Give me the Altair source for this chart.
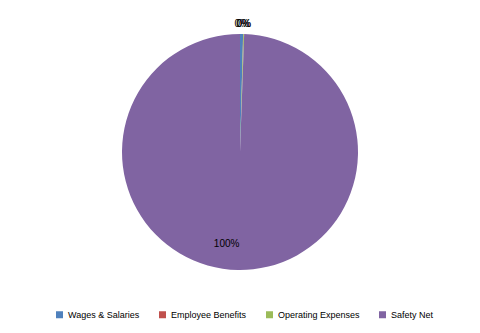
import altair as alt
import pandas as pd

categories = ["Wages & Salaries", "Employee Benefits", "Operating Expenses", "Safety Net"]
values = [0.42, 0.02, 0.12, 99.44]
labels = ["0%", "0%", "0%", "100%"]
colors = ["#4F81BD", "#C0504D", "#9BBB59", "#8064A2"]

df = pd.DataFrame({"category": categories, "value": values, "label": labels,
                   "idx": list(range(len(categories)))})

base = alt.Chart(df).encode(
    theta=alt.Theta("value:Q", stack=True),
    order=alt.Order("idx:Q"),
)

pie = base.mark_arc(radius=118).encode(
    color=alt.Color("category:N", sort=categories,
                    scale=alt.Scale(domain=categories, range=colors),
                    legend=alt.Legend(title=None, orient="none", direction="horizontal",
                                      legendX=55, legendY=310, symbolType="square",
                                      symbolSize=49, labelFont="Liberation Sans",
                                      labelFontSize=9, labelColor="#000000",
                                      labelOffset=4, padding=0,
                                      columnPadding=18, symbolStrokeWidth=0,
                                      labelLimit=200))
)

small = base.transform_filter(alt.datum.value < 50).mark_text(
    radius=128, font="Liberation Sans", fontSize=10, fill="#000000"
).encode(text="label:N")

big = base.transform_filter(alt.datum.value >= 50).mark_text(
    radius=92, dx=-15, font="Liberation Sans", fontSize=10, fill="#000000"
).encode(text="label:N")

chart = alt.layer(pie, small, big).properties(
    width=480, height=304, autosize=alt.AutoSizeParams(type="none"),
    padding={"left": 0, "top": 0, "right": 0, "bottom": 29}
).configure_view(stroke=None).configure(background="#ffffff")

chart.save("out.html", embed_options={"renderer": "svg", "actions": False})
